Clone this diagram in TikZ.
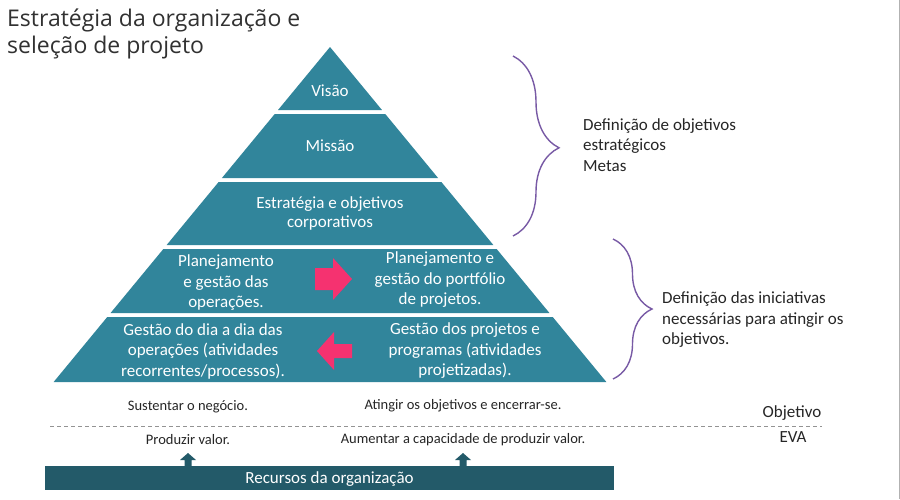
\documentclass[tikz,border=0pt]{standalone}
\usepackage{fontspec}
\setmainfont{Carlito}
\newfontfamily\titlefont{Open Sans}
\usetikzlibrary{decorations.pathreplacing}
\definecolor{camada}{RGB}{49,133,155}
\definecolor{barra}{RGB}{35,90,105}
\definecolor{rosa}{RGB}{245,50,112}
\definecolor{roxo}{RGB}{120,90,165}
\definecolor{texto}{RGB}{38,38,38}
\tikzset{
    layer/.style={fill=camada},
    layertxt/.style={text=white, font=\fontsize{17}{20.5}\selectfont, align=center, inner sep=0pt},
    nota/.style={text=texto, font=\fontsize{17}{20.5}\selectfont, align=left, anchor=west, inner sep=0pt},
    base/.style={text=texto, font=\fontsize{14.5}{16}\selectfont, inner sep=0pt},
    chave/.style={draw=roxo, line width=1.4pt, decorate},
    seta/.style={fill=rosa},
    setaup/.style={fill=barra}
}
\begin{document}
\begin{tikzpicture}[x=1pt, y=-1pt]
    \useasboundingbox (0,0) rectangle (900,499);
    \fill[white] (0,0) rectangle (900,499);
    \draw[gray!60, line width=0.8pt] (899.3,0) -- (899.3,499);
    % Título
    \node[anchor=west, text=texto!95, font=\titlefont\fontsize{23}{26.5}\selectfont, align=left, inner sep=0pt]
        (titulo) at (7,34) {Estratégia da organização e\\seleção de projeto};
    % Camadas da pirâmide
    \fill[layer] (330,47) -- ({330+0.825*63},110) -- ({330-0.825*63},110) -- cycle;
    \foreach \t/\b in {114/178, 182/245, 249/313, 317/382} {
        \fill[layer] ({330-0.825*(\t-47)},\t) -- ({330+0.825*(\t-47)},\t)
            -- ({330+0.825*(\b-47)},\b) -- ({330-0.825*(\b-47)},\b) -- cycle;
    }
    \node[layertxt] (visao) at (330,91) {Visão};
    \node[layertxt] (missao) at (330,146) {Missão};
    \node[layertxt, font=\fontsize{17}{19}\selectfont] (estrat) at (330,213) {Estratégia e objetivos\\corporativos};
    \node[layertxt] (planop) at (226,283) {Planejamento\\e gestão das\\operações.};
    \node[layertxt] (planport) at (440,280) {Planejamento e\\gestão do portfólio\\de projetos.};
    \node[layertxt] (gestop) at (203,351) {Gestão do dia a dia das\\operações (atividades\\recorrentes/processos).};
    \node[layertxt] (gestproj) at (465,351) {Gestão dos projetos e\\programas (atividades\\projetizadas).};
    % Setas entre operações e projetos
    \fill[seta] (315,268) -- (333,268) -- (333,258) -- (352,279) -- (333,300) -- (333,290) -- (315,290) -- cycle;
    \fill[seta] (352,344) -- (334,344) -- (334,332) -- (317,351) -- (334,370) -- (334,358) -- (352,358) -- cycle;
    % Chaves e notas
    \draw[chave, decoration={brace, amplitude=46pt, aspect=0.51}] (513,56) -- (513,236);
    \node[nota] (defobj) at (583,145) {Definição de objetivos\\estratégicos\\Metas};
    \draw[chave, decoration={brace, amplitude=39pt, aspect=0.5}] (613,239) -- (613,379);
    \node[nota] (definic) at (662,320) {Definição das iniciativas\\necessárias para atingir os\\objetivos.};
    % Objetivo / EVA
    \node[base] (sust) at (188,407) {Sustentar o negócio.};
    \node[base] (ating) at (463,406) {Atingir os objetivos e encerrar-se.};
    \coordinate (tracoA) at (50,426);
    \coordinate (tracoB) at (822,426);
    \draw[gray!85, line width=0.8pt, dash pattern=on 4pt off 3pt] (tracoA) -- (tracoB);
    \node[base, font=\fontsize{17}{18}\selectfont] (objetivo) at (792,413) {Objetivo};
    \node[base, font=\fontsize{17}{18}\selectfont] (eva) at (793,437) {EVA};
    \node[base] (prod) at (188,440) {Produzir valor.};
    \node[base] (aument) at (463,440) {Aumentar a capacidade de produzir valor.};
    % Recursos
    \fill[setaup] (184.5,466) -- (184.5,460) -- (180,460) -- (188,453) -- (196,460) -- (191.5,460) -- (191.5,466) -- cycle;
    \fill[setaup] (459.5,466) -- (459.5,460) -- (455,460) -- (463,453) -- (471,460) -- (466.5,460) -- (466.5,466) -- cycle;
    \fill[barra] (45,466) rectangle (614,490);
    \node[text=white, font=\fontsize{17}{18}\selectfont, inner sep=0pt] (recursos) at (329.5,479) {Recursos da organização};
\end{tikzpicture}
\end{document}
